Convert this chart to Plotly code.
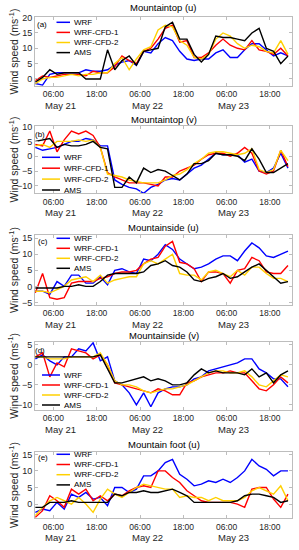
import pandas as pd
import plotly.graph_objects as go

# ---------------- data (2-hourly samples, 01:00 May 21 -> 23:00 May 23) ----------------
times = pd.date_range("2021-05-21 01:00", periods=36, freq="2h")

series_names = ["WRF", "WRF-CFD-1", "WRF-CFD-2", "AMS"]
series_colors = ["#0000ff", "#ff0000", "#ffd000", "#000000"]

panel_titles = ["Mountaintop (u)", "Mountaintop (v)", "Mountainside (u)",
                "Mountainside (v)", "Mountain foot (u)"]
panel_labels = ["(a)", "(b)", "(c)", "(d)", "(e)"]

# (a) Mountaintop u
a_wrf = [-1.5, -2, 1.5, 2, 2, 2, 2, 3, 2.5, 2.5, 3, 4.5, 5.5, 6, 4.5, 9, 8.5, 11.5,
         13.5, 12.5, 9, 6.5, 6, 6.5, 6.5, 8.5, 9.5, 7, 7, 9.5, 11.5, 11.5, 9.5, 7.5, 8.5, 7.5]
a_cfd1 = [-0.5, 1, 0.5, 1, 1.5, 1.5, 1.5, 1, 2.5, 2, 2, 4, 7.5, 6, 5, 9, 10, 13,
          16.5, 17.5, 12, 12.5, 7, 7, 8.5, 11, 13, 11, 10, 9.5, 12.5, 9.5, 9, 8, 10, 7.5]
a_cfd2 = [-1.5, 0, 0.5, 0.5, 1, 1.5, 1, 1.5, 1.5, 2, 2, 5, 7, 3, 6.5, 9.5, 10.5, 16,
          17.5, 17, 12.5, 11, 7, 6.5, 8, 13, 15, 14, 11.5, 10, 11, 10.5, 9, 8.5, 12.5, 8]
a_ams = [-1, 0.5, 3, 1.5, 2, 2, 2, 0, 0, 0, 9.5, 3, 6, 7.5, 4.5, 9, 9.5, 10,
         17, 18.5, 13, 13, 8, 5.5, 8, 14, 13.5, 13.5, 13, 12.5, 15, 16.5, 10, 9, 5, 7.5]

# (b) Mountaintop v
b_wrf = [3, 2, 2.5, 3, 4, 5, 5, 6, 5.5, 3.5, 3.5, -8, -9.5, -10.5, -11, -12.5, -10.5, -9.5,
         -8, -7.5, -8, -6, -4, -3, -1, 1, 0.5, 0.5, 0.5, -2, -1, -5, -5.5, -4, 1, -4]
b_cfd1 = [4, 3.5, 8.5, 1.5, 5.5, 8.5, 7.5, 8.5, 7, 3, -5.5, -7, -8, -9, -9, -9, -9.5, -10,
          -7, -7, -5, -4, -3, -1, 0.5, 1, 1, 0, 1, 3, 1, -5, -6, -5, 2, -3.5]
b_cfd2 = [3.5, 4, 3, 5, 5, 5, 5.5, 5, 5.5, 3, -6, -6.5, -7, -8, -8.5, -9, -9, -9,
          -8, -6.5, -6, -4.5, -2.5, -1, 1, 1.5, 1.5, 1, 0.5, 1, 2.5, -4.5, -5.5, -4.5, 2, -1.5]
b_ams = [5, 5.5, 6, 3, 4, 3.5, 3.5, 4, 5, 3, 2.5, -10.5, -10.5, -7, -9, -4, -5.5, -4.5,
         -5, -6.5, -8, -6, -2.5, -2.5, -1.5, 1, 0.5, 0.5, 0, -1.5, 2.5, -1, -5.5, -5.5, -4, -2.5]

# (c) Mountainside u
c_wrf = [-1.5, -1.5, -2.5, 1.5, 0, 3.5, 3.5, 1, 1, 3, 0.5, 5, 5.5, 4.5, 4, 8.5, 8, 10,
         13, 11.5, 8.5, 7, 5.5, 6, 7, 8.5, 9.5, 9.5, 8, 11, 13.5, 12, 9.5, 9, 10, 11]
c_cfd1 = [-2, 4, -3.5, -4, -3.5, 1, 1.5, 1.5, 1.5, 2.5, 3, 4, 4.5, 4.5, 5, 7, 8.5, 9,
          12.5, 14, 7.5, 7, 5.5, 1.5, 4.5, 4.5, 4, 1, 5, 5.5, 9, 8, 4.5, 4, 4, 6.5]
c_cfd2 = [-1.5, -1.5, -2, -1, 0, 2, 2.5, 3, 1.5, 3.5, 1, 2, 2.5, 3, 3, 7, 8, 7,
          8.5, 10, 4, 3.5, 3.5, 2, 4.5, 5, 4, 3, 5, 3.5, 6, 6, 4, 2.5, 2.5, 1.5]
c_ams = [-0.5, -0.5, -0.5, -0.5, 0, 0, 0.5, 0, 0, 1.5, 3.5, 4, 4, 4, 4, 4.5, 6.5, 7,
         8, 6.5, 6, 4.5, 2, 1.5, 2.5, 3, 4, 2.5, 3, 4.5, 6, 7, 5, 3, 1, 1.5]

# (d) Mountainside v
d_wrf = [1.5, 2.5, 1, 0, 2, 2, 4, 3.5, 5.5, 1, 2, -4, -5, -7, -10, -7, -10.5, -7,
         -6, -5.5, -5.5, -5, -3.5, -3, -1.5, -1, -0.5, 0, 0.5, 1.5, 1.5, -1, -2, -3.5, -3.5, -5.5]
d_cfd1 = [2, 3, -3, 0.5, -0.5, 4, 3.5, 3, 1.5, 2.5, 0, -4.5, -5, -5.5, -6, -6.5, -7, -6,
          -6.5, -7.5, -7.5, -4.5, -4, -3, -2.5, -2, -2, -1.5, -2, -2, -4, -6, -6.5, -5, -3, -4.5]
d_cfd2 = [2, 2, 1.5, 1.5, 1.5, 2, 2, 2, 2, 3, 0, -4, -5, -5, -5.5, -6.5, -7, -6.5,
          -6, -6, -5.5, -5, -4, -3, -2, -1.5, -1.5, -2, -2, -1.5, -3, -5, -5.5, -4, -2.5, -3]
d_ams = [2, 2, 2, 2, 2, 2, 2, 2, 2, 2.5, -1, -4.5, -4.5, -4, -3.5, -3, -4, -3.5,
         -4, -5, -5, -4.5, -2.5, -1, -2, -1.5, -2, -2, -2, -2.5, -1, -3, -2, -4.5, -2.5, -1.5]

# (e) Mountain foot u
e_wrf = [-2.5, -1.5, -2, 0.5, -1.5, 3, 2, 3.5, 1.5, 2, -0.5, 5, 5, 3.5, 4.5, 8.5, 8.5, 10,
         12.5, 13.5, 9, 7.5, 5.5, 6, 7, 6.5, 7.5, 6.5, 8, 10, 13.5, 11.5, 10.5, 8.5, 10, 10]
e_cfd1 = [-4, -2, 2.5, 1, -1, 4.5, 3, 4.5, 1, 2.5, 1, 3, 2.5, 4, 5, 5.5, 5, 10,
          10, 8, 6.5, 4, 2.5, 1, 0.5, 0.5, 0.5, 0.5, 0, -1, 4.5, 5, 5, 1.5, -1, 3]
e_cfd2 = [-3.5, -1, 1, 2, 1, 0, 2, 0, -2.5, 1.5, 4.5, 3, 2, 3.5, 5, 6, 5.5, 5,
          4.5, 4.5, 2, 2.5, 2, 2, 1, 2, 1, 1, 1, 2, 4, 5, 4, 3, 5.5, 1]
e_ams = [-1, -1, 0.5, 0.5, 0.5, 1, 0.5, 0.5, 0.5, 0.5, 0.5, 3, 2.5, 3.5, 3.5, 4, 3.5, 3.5,
         4, 4.5, 3.5, 2.5, 0.5, 0.5, 0.5, 0.5, 0.5, 0.5, 1, 2.5, 3, 3, 2.5, 2, 0.5, 1]

panels = [
    [a_wrf, a_cfd1, a_cfd2, a_ams],
    [b_wrf, b_cfd1, b_cfd2, b_ams],
    [c_wrf, c_cfd1, c_cfd2, c_ams],
    [d_wrf, d_cfd1, d_cfd2, d_ams],
    [e_wrf, e_cfd1, e_cfd2, e_ams],
]

y_ranges = [[-2.3, 20.2], [-12.5, 10.3], [-5.8, 16], [-11.3, 5.8], [-4.3, 15.8]]
y_ticks = [[0, 5, 10, 15, 20], [-10, -5, 0, 5, 10], [-5, 0, 5, 10, 15],
           [-10, -5, 0, 5], [0, 5, 10, 15]]

tick_vals = ["2021-05-21 06:00", "2021-05-21 18:00", "2021-05-22 06:00",
             "2021-05-22 18:00", "2021-05-23 06:00", "2021-05-23 18:00"]
tick_text = ["06:00", "18:00", "06:00", "18:00", "06:00", "18:00"]
date_labels = ["May 21", "May 22", "May 23"]
date_label_pos = ["2021-05-21 08:00", "2021-05-22 08:00", "2021-05-23 08:00"]
x_range = ["2021-05-21 00:54", "2021-05-24 00:12"]

# ---------------- layout geometry (pixels) ----------------
W, H = 299, 550
plot_left, plot_right = 35, 292.3
panel_px = [(17, 86), (125.7, 193.3), (235, 305), (341.7, 410), (451.7, 518.3)]
title_px = [8, 120, 227.7, 335.5, 444]
legend_cfg = [  # (line x0, line x1, text x, first item y, step)
    (56.5, 70, 72, 22.3, 10.1),
    (42, 60, 62, 157.3, 10.9),
    (56.5, 70, 72, 238.3, 10.0),
    (42, 60, 62, 375, 10.0),
    (56.5, 70, 72, 454.3, 10.2),
]
label_px = [(42, 25), (40, 134), (43, 241), (40, 350), (43, 457)]

FONT = "Arial, Liberation Sans, Helvetica, sans-serif"
TXT = "#262626"
BOX = "#bdbdbd"

def px_x(x):
    return x / W

def px_y(y):
    return 1 - y / H

fig = go.Figure()
annotations = []
shapes = []

for i, data in enumerate(panels):
    n = i + 1
    xa = "x" if n == 1 else f"x{n}"
    ya = "y" if n == 1 else f"y{n}"
    for name, color, vals in zip(series_names, series_colors, data):
        fig.add_trace(go.Scatter(x=times, y=vals, mode="lines", name=name,
                                 line=dict(color=color, width=1.4),
                                 xaxis=xa, yaxis=ya, showlegend=False))
    top, bot = panel_px[i]
    xkey = "xaxis" if n == 1 else f"xaxis{n}"
    ykey = "yaxis" if n == 1 else f"yaxis{n}"
    fig.layout[xkey] = dict(
        domain=[px_x(plot_left), px_x(plot_right)], anchor=ya, type="date",
        range=x_range, tickmode="array", tickvals=tick_vals, ticktext=tick_text,
        ticks="inside", ticklen=3, tickcolor=BOX, showline=True, linecolor=BOX,
        linewidth=1, mirror="ticks", showgrid=False, zeroline=False,
        automargin=False,
        tickfont=dict(family=FONT, size=8.5, color=TXT), tickangle=0,
    )
    fig.layout[ykey] = dict(
        domain=[px_y(bot), px_y(top)], anchor=xa, range=y_ranges[i],
        tickmode="array", tickvals=y_ticks[i], ticks="inside", ticklen=3,
        tickcolor=BOX, showline=True, linecolor=BOX, linewidth=1, mirror="ticks",
        showgrid=False, zeroline=False, automargin=False,
        tickfont=dict(family=FONT, size=9, color=TXT),
    )
    # date labels under the 06:00 ticks
    for dl, dp in zip(date_labels, date_label_pos):
        annotations.append(dict(text=dl, x=dp, xref=xa, y=px_y(bot + 19.5),
                                yref="paper", showarrow=False, xanchor="center",
                                yanchor="middle",
                                font=dict(family=FONT, size=9.5, color=TXT)))
    # panel title
    annotations.append(dict(text=panel_titles[i], x=px_x((plot_left + plot_right) / 2),
                            y=px_y(title_px[i]), xref="paper", yref="paper",
                            showarrow=False, xanchor="center", yanchor="middle",
                            font=dict(family=FONT, size=9.5, color="#000000")))
    # y axis title
    annotations.append(dict(text="Wind speed (ms<sup>-1</sup>)", x=px_x(13),
                            y=px_y((top + bot) / 2), xref="paper", yref="paper",
                            showarrow=False, textangle=-90, xanchor="center",
                            yanchor="middle",
                            font=dict(family=FONT, size=10.5, color=TXT)))
    # panel label
    lx, ly = label_px[i]
    annotations.append(dict(text=panel_labels[i], x=px_x(lx), y=px_y(ly),
                            xref="paper", yref="paper", showarrow=False,
                            xanchor="center", yanchor="middle",
                            font=dict(family=FONT, size=8, color="#000000")))
    # legend (drawn manually so entries fit the small panels)
    lx0, lx1, tx, y0, step = legend_cfg[i]
    for k, (name, color) in enumerate(zip(series_names, series_colors)):
        yy = y0 + k * step
        shapes.append(dict(type="line", xref="paper", yref="paper",
                           x0=px_x(lx0), x1=px_x(lx1), y0=px_y(yy), y1=px_y(yy),
                           line=dict(color=color, width=1.5)))
        annotations.append(dict(text=name, x=px_x(tx), y=px_y(yy), xref="paper",
                                yref="paper", showarrow=False, xanchor="left",
                                yanchor="middle",
                                font=dict(family=FONT, size=8, color="#000000")))

fig.update_layout(
    width=W, height=H, margin=dict(l=0, r=0, t=0, b=0, autoexpand=False),
    paper_bgcolor="white", plot_bgcolor="white",
    showlegend=False, annotations=annotations, shapes=shapes,
)

fig.write_html(
    "out.html",
    config={"responsive": False, "displayModeBar": False},
    post_script="document.body.style.margin='0px';document.body.style.padding='0px';"
                "document.body.style.overflow='hidden';",
)
